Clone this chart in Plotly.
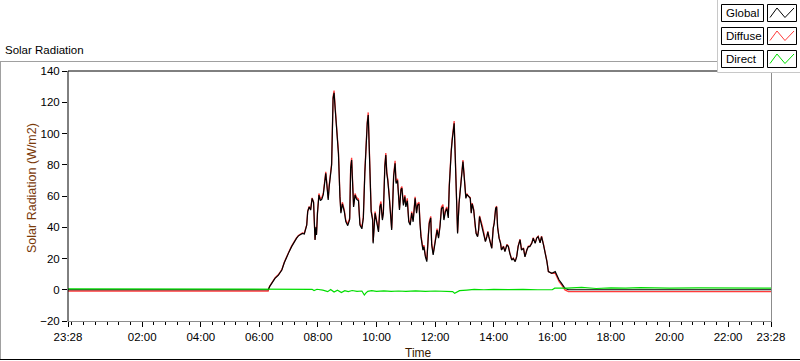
import plotly.graph_objects as go
import pandas as pd

DAY0 = "2014-03-10"
DAY1 = "2014-03-11"
START = DAY0 + " 23:28"
END = DAY1 + " 23:28"

# ---- Global / Diffuse series (times of day on DAY1, plus START and END) ----
series_hm = [
    "06:18", "06:21", "06:26", "06:32", "06:39", "06:46", "06:51", "06:56", "07:01", "07:06",
    "07:11", "07:16", "07:20", "07:23", "07:28", "07:32", "07:37", "07:39", "07:42", "07:45",
    "07:47", "07:48", "07:51", "07:53", "07:54", "07:56", "07:57", "07:59", "08:02", "08:05",
    "08:08", "08:11", "08:13", "08:16", "08:18", "08:21", "08:23", "08:25", "08:28", "08:31",
    "08:33", "08:35", "08:36", "08:38", "08:40", "08:42", "08:45", "08:47", "08:50", "08:52",
    "08:54", "08:57", "09:01", "09:05", "09:07", "09:09", "09:11", "09:13", "09:16", "09:19",
    "09:23", "09:26", "09:30", "09:33", "09:36", "09:38", "09:41", "09:43", "09:45", "09:47",
    "09:49", "09:52", "09:53", "09:57", "10:00", "10:04", "10:07", "10:09", "10:12", "10:14",
    "10:17", "10:19", "10:21", "10:23", "10:26", "10:29", "10:31", "10:33", "10:35", "10:38",
    "10:40", "10:43", "10:45", "10:47", "10:50", "10:52", "10:55", "10:58", "11:00", "11:03",
    "11:06", "11:09", "11:12", "11:15", "11:19", "11:22", "11:24", "11:27", "11:29", "11:31",
    "11:35", "11:37", "11:40", "11:43", "11:46", "11:48", "11:51", "11:53", "11:56", "12:00",
    "12:02", "12:04", "12:07", "12:10", "12:13", "12:16", "12:18", "12:21", "12:24", "12:27",
    "12:29", "12:31", "12:33", "12:35", "12:37", "12:39", "12:41", "12:43", "12:45", "12:46",
    "12:49", "12:52", "12:55", "12:57", "12:59", "13:00", "13:03", "13:05", "13:08", "13:12",
    "13:14", "13:16", "13:19", "13:22", "13:24", "13:27", "13:29", "13:31", "13:34", "13:37",
    "13:40", "13:43", "13:46", "13:48", "13:50", "13:53", "13:56", "13:59", "14:01", "14:04",
    "14:06", "14:08", "14:11", "14:14", "14:16", "14:20", "14:23", "14:27", "14:30", "14:33",
    "14:37", "14:40", "14:44", "14:47", "14:50", "14:54", "14:57", "15:01", "15:04", "15:08",
    "15:11", "15:14", "15:18", "15:21", "15:25", "15:28", "15:31", "15:35", "15:38", "15:42",
    "15:45", "15:49", "15:52", "15:59", "16:06", "16:09", "16:14", "16:19", "16:26", "16:33",
]

global_vals = [
    0,
    0, 2, 4.1, 7.3, 9.4, 12.6, 17.3, 21.2, 24.4, 27.6,
    30.5, 32.9, 34.5, 35, 36, 35.7, 41.4, 50, 53, 51,
    56.4, 58.5, 56, 44.6, 31.8, 40, 35, 49, 60.6, 57,
    58, 61, 66, 74.5, 68, 57.4, 66, 72, 79.8, 122.5,
    126, 117, 113, 109, 95.8, 87, 59.6, 49, 55, 53,
    50, 43.6, 41, 45, 78, 83, 65, 53, 60.6, 58,
    57, 41.4, 39, 46, 74.5, 91.6, 106.5, 111.8, 95, 68,
    50, 44.6, 29.7, 49, 44.6, 37, 53, 55, 44.6, 49,
    78.8, 86.2, 74.5, 70, 59.6, 49, 38.2, 54, 72.4, 81,
    68, 70, 59.6, 51, 64, 65, 54, 59.6, 53, 57,
    43.5, 41.4, 49, 43.5, 58.5, 49, 54, 55, 42.5, 34,
    25.4, 27.6, 21.2, 18, 34, 42.5, 46, 28.7, 22.3, 29.7,
    36, 38.2, 33, 40.3, 52, 53, 44.6, 50, 52, 46,
    66, 81, 88.4, 95.8, 104.4, 106.5, 87, 70, 46, 36,
    55, 64, 72.4, 82, 74.5, 70, 58.5, 61, 59.6, 58.5,
    49, 55, 51, 40.3, 36, 34, 38, 46.8, 42.5, 40.3,
    36, 30.8, 34, 37, 34, 29.7, 26.5, 39.3, 42.5, 52,
    53, 40, 33, 29.7, 25.4, 27.6, 24.4, 28.7, 27.6, 23.3,
    19, 20, 18, 21, 27.6, 32, 25.4, 26.5, 21, 25.4,
    27.6, 27.6, 29.7, 33, 29.7, 33, 34, 30, 34, 28.7,
    24.4, 18, 11.6, 10.5, 11.6, 9.5, 6.2, 4.1, 0.9, 0,
    0,
]

diffuse_vals = [
    -0.8,
    -0.8, 2.3, 4.4, 7.6, 9.7, 12.9, 17.6, 21.5, 24.7, 27.9,
    30.8, 33.2, 34.8, 35.3, 36.3, 36, 41.7, 50.3, 53.3, 51.3,
    56.7, 58.8, 56.3, 44.9, 32.1, 40.3, 35.3, 49.3, 61.6, 58,
    59, 62, 67, 75.5, 69, 58.4, 67, 73, 80.8, 123.5,
    127.5, 118, 114, 110, 96.8, 88, 60.6, 50, 56, 54,
    51, 44.6, 42, 46, 79, 84.5, 66, 54, 61.6, 59,
    58, 42.4, 40, 47, 75.5, 92.6, 107.5, 113.5, 96, 69,
    51, 45.6, 30.7, 50, 45.6, 38, 54, 56.5, 45.6, 50,
    79.8, 87.5, 75.5, 71, 60.6, 50, 39.2, 55, 73.4, 82.5,
    69, 71, 60.6, 52, 65, 66, 55, 60.6, 54, 58.5,
    44.5, 42.4, 50, 44.5, 59.5, 50, 55, 56, 43.5, 35,
    26.4, 28.6, 22.2, 19, 35, 43.5, 47, 29.7, 23.3, 30.7,
    37, 39.2, 34, 41.3, 53, 54.5, 45.6, 51, 53, 47,
    67, 82, 89.4, 96.8, 105.4, 108, 88.5, 71, 47, 36.8,
    55.5, 64.5, 72.9, 83, 75, 70.5, 59, 61.5, 60, 59,
    49.4, 55.4, 51.4, 40.6, 36.3, 34.3, 38.3, 47.3, 42.8, 40.6,
    36.3, 31.1, 34.3, 37.3, 34.3, 30, 26.8, 39.6, 42.8, 52.3,
    53.5, 40.3, 33.3, 30, 25.7, 27.9, 24.7, 29, 27.9, 23.6,
    19.3, 20.3, 18.3, 21.3, 27.9, 32.3, 25.7, 26.8, 21.3, 25.7,
    27.9, 27.9, 30, 33.3, 30, 33.3, 34.3, 30.3, 34.3, 29,
    24.7, 18.3, 11.6, 10.5, 10.6, 8.5, 5.2, 3.1, -0.1, -1.2,
    -1.2,
]

# ---- Direct series ----
direct_hm = [
    "06:18", "07:00", "07:48", "07:52", "07:58", "08:10", "08:20", "08:26", "08:33", "08:40",
    "08:48", "08:55", "09:02", "09:10", "09:20", "09:30", "09:35", "09:38", "09:42", "09:50",
    "10:00", "10:15", "10:30", "10:45", "11:00", "11:20", "11:40", "12:00", "12:20", "12:36",
    "12:40", "12:44", "12:50", "13:05", "13:20", "13:40", "14:00", "14:30", "15:00", "15:30",
    "16:00", "16:05", "16:30", "17:00", "17:30", "18:00", "18:30", "19:00", "20:00", "21:00",
    "22:00",
]
direct_vals = [
    0.5,
    0.5, 0.3, 0.3, -0.5, 0.3, -0.2, -1.2, 0.2, -1.5, -0.3,
    -1.8, -0.6, -1.2, -0.5, -1.0, -0.8, -3.4, -2.2, -1.0, -0.6,
    -1.0, -0.7, -1.0, -0.8, -1.1, -0.7, -1.0, -0.8, -1.0, -1.2,
    -2.3, -1.6, -0.6, -0.2, 0.2, 0.0, 0.3, 0.1, 0.3, 0.0,
    0.0, 1.0, 1.0, 1.5, 0.8, 1.2, 1.0, 1.3, 1.0, 1.2,
    1.0,
    1.0,
]

xtick_labels = ["23:28", "02:00", "04:00", "06:00", "08:00", "10:00", "12:00",
                "14:00", "16:00", "18:00", "20:00", "22:00", "23:28"]
ytick_vals = [-20, 0, 20, 40, 60, 80, 100, 120, 140]
series_names = ["Global", "Diffuse", "Direct"]
series_colors = ["#000000", "#ff3b3b", "#00dd00"]

# ---------------------------------------------------------------
series_t = [START] + [f"{DAY1} {h}" for h in series_hm] + [END]
direct_t = [START] + [f"{DAY1} {h}" for h in direct_hm] + [END]
xtick_vals = [START] + [f"{DAY1} {h}" for h in xtick_labels[1:-1]] + [END]
minor_vals = list(pd.date_range(DAY0 + " 23:36", END, freq="24min").strftime("%Y-%m-%d %H:%M"))

FONT = "Liberation Sans"

fig = go.Figure()
fig.add_trace(go.Scatter(x=series_t, y=diffuse_vals, mode="lines", name="Diffuse",
                         line=dict(color=series_colors[1], width=1.3)))
fig.add_trace(go.Scatter(x=series_t, y=global_vals, mode="lines", name="Global",
                         line=dict(color=series_colors[0], width=1.2)))
fig.add_trace(go.Scatter(x=direct_t, y=direct_vals, mode="lines", name="Direct",
                         line=dict(color=series_colors[2], width=1.2)))

L, R, T, B = 68, 771, 71, 321
W, H = R - L, B - T


def px(x):
    return (x - L) / W


def py(y):
    return (B - y) / H


shapes = []


def line(x0, y0, x1, y1, color, width=1):
    shapes.append(dict(type="line", xref="paper", yref="paper",
                       x0=px(x0), y0=py(y0), x1=px(x1), y1=py(y1),
                       line=dict(color=color, width=width), layer="above"))


# outer frame
line(0, 61.5, 720, 61.5, "#a0a0a0")
line(0.5, 61, 0.5, 360, "#a0a0a0")
line(0, 359.5, 800, 359.5, "#000000")
# plot frame
line(68, 71, 68, 321.5, "#000000")
line(68, 71, 771, 71, "#000000")
line(771.5, 71, 771.5, 322, "#8c8c8c")
line(68, 321.5, 771.5, 321.5, "#8c8c8c")

# legend panel
shapes.append(dict(type="rect", xref="paper", yref="paper",
                   x0=px(717.5), y0=py(-2), x1=px(802), y1=py(72.5),
                   fillcolor="#ffffff", line=dict(color="#c8c8c8", width=1), layer="above"))
annotations = []
for i, (nm, col) in enumerate(zip(series_names, series_colors)):
    y0 = 4.5 + 23 * i
    y1 = y0 + 17
    shapes.append(dict(type="rect", xref="paper", yref="paper",
                       x0=px(721.5), y0=py(y0), x1=px(763.5), y1=py(y1),
                       fillcolor="#ffffff", line=dict(color="#000000", width=1), layer="above"))
    shapes.append(dict(type="rect", xref="paper", yref="paper",
                       x0=px(767.5), y0=py(y0), x1=px(796.5), y1=py(y1),
                       fillcolor="#ffffff", line=dict(color="#000000", width=1), layer="above"))
    path = "M {:.5f} {:.5f} L {:.5f} {:.5f} L {:.5f} {:.5f} L {:.5f} {:.5f}".format(
        px(770), py(y0 + 13), px(777), py(y0 + 3.5), px(785), py(y0 + 13), px(794), py(y0 + 3.5))
    shapes.append(dict(type="path", xref="paper", yref="paper", path=path,
                       line=dict(color=col, width=1), layer="above"))
    annotations.append(dict(xref="paper", yref="paper", x=px(723.5), y=py((y0 + y1) / 2),
                            xanchor="left", yanchor="middle", showarrow=False, text=nm,
                            font=dict(family=FONT, size=11.5, color="#000000")))

annotations.append(dict(xref="paper", yref="paper", x=px(3), y=py(50), xanchor="left",
                        yanchor="middle", showarrow=False, text="Solar Radiation",
                        font=dict(family=FONT, size=11.5, color="#000000")))
annotations.append(dict(xref="paper", yref="paper", x=px(32), y=py(188), xanchor="center",
                        yanchor="middle", showarrow=False, text="Solar Radiation (W/m2)",
                        textangle=-90, font=dict(family=FONT, size=12.5, color="#7a3a0a")))
annotations.append(dict(xref="paper", yref="paper", x=px(418), y=py(353), xanchor="center",
                        yanchor="middle", showarrow=False, text="Time",
                        font=dict(family=FONT, size=12, color="#3a1a00")))

fig.update_layout(
    width=800, height=361,
    margin=dict(l=L, r=800 - R, t=T, b=361 - B, pad=0),
    paper_bgcolor="#ffffff", plot_bgcolor="#ffffff",
    showlegend=False,
    font=dict(family=FONT, size=11, color="#000000"),
    xaxis=dict(type="date", range=[START, END], tickmode="array",
               tickvals=xtick_vals, ticktext=xtick_labels,
               ticks="outside", ticklen=5, tickwidth=1, tickcolor="#000000",
               showgrid=False, zeroline=False, showline=False,
               tickfont=dict(family=FONT, size=11.5, color="#000000"),
               minor=dict(tickmode="array", tickvals=minor_vals, ticks="outside",
                          ticklen=3, tickwidth=1, tickcolor="#000000", showgrid=False)),
    yaxis=dict(range=[-20, 140], tickmode="array", tickvals=ytick_vals,
               ticks="outside", ticklen=5, tickwidth=1, tickcolor="#000000",
               showgrid=False, zeroline=False, showline=False,
               tickfont=dict(family=FONT, size=11.5, color="#000000")),
    shapes=shapes,
    annotations=annotations,
)

fig.write_html("out.html",
               config={"displayModeBar": False},
               post_script="document.body.style.margin='0';document.body.style.overflow='hidden';")
